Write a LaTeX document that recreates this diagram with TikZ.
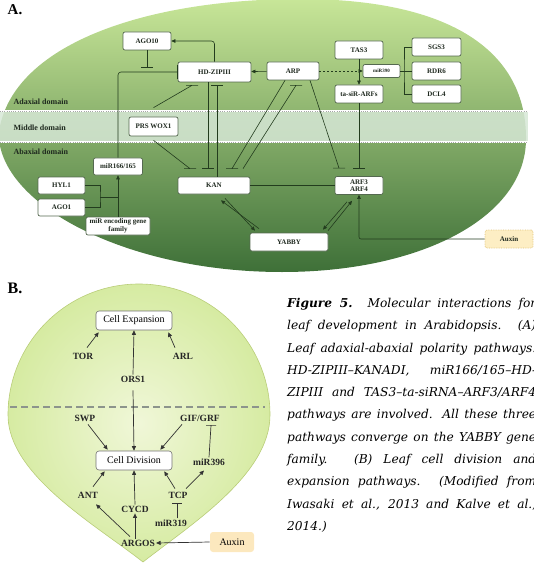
\documentclass[tikz,border=0pt]{standalone}
\usepackage{fontspec}
\setmainfont{Liberation Serif}
\newfontfamily\capfont{DejaVu Serif}
\usetikzlibrary{arrows.meta,positioning,calc}
\definecolor{leaftop}{RGB}{200,230,152}
\definecolor{leafmid}{RGB}{178,214,138}
\definecolor{leafdark}{RGB}{62,112,56}
\definecolor{bandfill}{RGB}{214,231,214}
\definecolor{boxline}{RGB}{85,105,80}
\definecolor{linkgreen}{RGB}{35,60,30}
\definecolor{labeltext}{RGB}{30,40,30}
\definecolor{leafB}{RGB}{214,235,162}
\definecolor{leafBin}{RGB}{240,247,216}
\definecolor{leafBedge}{RGB}{185,205,120}
\definecolor{auxinA}{RGB}{253,238,196}
\definecolor{auxinAedge}{RGB}{225,195,120}
\definecolor{auxinB}{RGB}{252,232,190}
\definecolor{dashgray}{RGB}{140,148,140}
\newcommand{\capline}[1]{\makebox[249pt][s]{#1}}
\tikzset{
  genebox/.style={rectangle,rounded corners=2pt,draw=boxline,fill=white,
                  line width=0.7pt,minimum width=#1,minimum height=18pt,
                  inner sep=0.5pt,align=center,text=labeltext,
                  font=\fontsize{7}{7.5}\selectfont\bfseries},
  genebox/.default=48pt,
  zonelabel/.style={anchor=west,text=labeltext,
                    font=\fontsize{8}{9}\selectfont\bfseries},
  link/.style={linkgreen,line width=0.6pt},
  act/.style={link,-{Triangle[length=4pt,width=3.6pt]}},
  blk/.style={link,-{Bar[width=14pt]}},
  tbar/.style={link,to path={-- (\tikztotarget) +(-#1,0) -- +(#1,0)}},
  tbar/.default=6,
  gene/.style={inner sep=1pt,text=black!85,
               font=\fontsize{9.5}{11}\selectfont\bfseries},
  cellbox/.style={rectangle,rounded corners=3pt,draw=black!55,fill=white,
                  line width=0.6pt,minimum width=76pt,minimum height=19pt,
                  font=\fontsize{10}{12}\selectfont},
  linkB/.style={black!80,line width=0.7pt},
  actB/.style={linkB,-{Triangle[length=4.5pt,width=4pt]}},
  tbarB/.style={linkB,to path={-- (\tikztotarget) +(-5,0) -- +(5,0)}},
}
\begin{document}
\begin{tikzpicture}[x=1pt,y=-1pt]
\useasboundingbox (0,0) rectangle (534,564);
% A: leaf polarity
\shade[top color=leaftop,middle color=leafmid,bottom color=leafdark]
  (0,126) .. controls (18,42) and (150,-1) .. (300,-1)
  .. controls (452,-1) and (527,52) .. (526,140)
  .. controls (525,218) and (420,272) .. (282,272)
  .. controls (135,272) and (14,212) .. (0,146) -- cycle;
\fill[bandfill,opacity=0.85] (0,111) rectangle (528,142);
\foreach \yy in {111,142}{
  \draw[white,line width=1.4pt] (0,\yy) -- (528,\yy);
  \draw[gray!70,line width=0.6pt,dash pattern=on 1pt off 1.2pt] (0,\yy) -- (528,\yy);
}
\node[font=\fontsize{15}{16}\selectfont\bfseries] (labA) at (15,10) {A.};
\node[zonelabel] (adax) at (10,102) {Adaxial domain};
\node[zonelabel] (midd) at (10,128) {Middle domain};
\node[zonelabel] (abax) at (10,152) {Abaxial domain};

\node[genebox] (ago10) at (147,41) {AGO10};
\node[genebox=73pt,minimum height=20pt] (hdzip) at (214.5,72) {HD-ZIPIII};
\node[genebox=52pt] (arp) at (293,71) {ARP};
\node[genebox] (tas3) at (359,50) {TAS3};
\node[genebox=37pt,minimum height=13pt,font=\fontsize{5}{6}\selectfont\bfseries]
  (mir390) at (381.5,71) {miR390};
\node[genebox] (tasir) at (359,94) {ta-siR-ARFs};
\node[genebox=49pt] (sgs3) at (436.5,47) {SGS3};
\node[genebox=49pt] (rdr6) at (436.5,71) {RDR6};
\node[genebox=49pt] (dcl4) at (436.5,94) {DCL4};
\node[genebox=49pt,minimum height=19pt] (prs) at (153.5,126.5) {PRS WOX1};
\node[genebox=49pt,minimum height=17pt] (mir166) at (118,166.5) {miR166/165};
\node[genebox=47pt,minimum height=17pt] (hyl1) at (61.5,185.5) {HYL1};
\node[genebox=47pt,minimum height=17pt] (ago1) at (61.5,207.5) {AGO1};
\node[genebox=64pt] (mirgene) at (118,226) {miR encoding gene\\family};
\node[genebox=72pt,minimum height=17pt] (kan) at (214,185.5) {KAN};
\node[genebox] (arf) at (359,185.5) {ARF3\\ARF4};
\node[genebox=78pt] (yabby) at (289,242) {YABBY};
\node[genebox,fill=auxinA,draw=auxinAedge,densely dotted] (auxinA) at (509,239) {Auxin};

\draw[act,rounded corners=3pt] (hdzip.north) |- (ago10.east);
\coordinate (ago10end) at (147,67);
\draw[tbar] (ago10.south) to (ago10end);
\draw[blk,rounded corners=3pt] (mir166.north) |- (hdzip.west);
\draw[act] (arp) -- (hdzip);
\draw[act,dash pattern=on 2pt off 2pt] (arp) -- (mir390);
\draw[act] (tas3) -- (tasir);
\coordinate (brk) at (404,71);
\draw[link] (mir390.east) -- (rdr6.west);
\draw[link] (sgs3.west) -| (brk) |- (dcl4.west);
\draw[tbar] (tasir.south) to ($(arf.north)+(0,-8)$);
\draw[tbar] ($(arp.south)+(17,0)$) to ($(arf.north)+(-20,-8)$);
\draw[tbar] ($(hdzip.south)+(-6.5,0)$) to ($(kan.north)+(-6,-8)$);
\draw[tbar] ($(kan.north)+(3,0)$) to ($(hdzip.south)+(2.5,3)$);
\draw[tbar] ($(prs.north)+(0,-9)$) to ($(hdzip.south)+(-22.5,3)$);
\draw[tbar] ($(prs.south)+(0,4)$) to ($(kan.north)+(-24,-8)$);
\draw[tbar] ($(arp.south)+(-8,0)$) to ($(kan.north)+(18,-8)$);
\draw[tbar] ($(kan.north)+(29,-8)$) to ($(arp.south)+(3,5)$);
\draw[link] (kan) -- (arf);
\draw[act] ($(kan.south)+(11,4)$) -- ($(yabby.north)+(-34,-2)$);
\draw[act] ($(yabby.north)+(-30,-4)$) -- ($(kan.south)+(7,6)$);
\draw[act] ($(arf.south)+(-12,7)$) -- ($(yabby.north)+(34,-3)$);
\draw[act] ($(yabby.north)+(39,-2)$) -- ($(arf.south)+(-7,6)$);
\draw[act,rounded corners=2pt] (auxinA.west) -| (arf.south);
\coordinate (hjoin) at (100,197.5);
\draw[link] (hyl1.east) -| (hjoin) |- (ago1.east);
\draw[link] (hjoin) -- (hjoin -| mirgene.north);
\draw[act] (mirgene.north) -- (mir166.south);

% B: cell division and expansion
\shadedraw[inner color=leafBin,outer color=leafB,draw=leafBedge,line width=0.6pt]
  (8,415) arc[start angle=180,end angle=360,radius=131]
  .. controls (270,475) and (190,525) .. (143,562)
  .. controls (96,525) and (8,475) .. cycle;
\draw[dashgray,line width=1.3pt,dash pattern=on 7pt off 4pt] (10,407) -- (265,407);
\node[font=\fontsize{16}{17}\selectfont\bfseries] (labB) at (15,288) {B.};

\node[cellbox] (cellexp) at (134,320.5) {Cell Expansion};
\node[cellbox] (celldiv) at (134,460.5) {Cell Division};
\node[gene] (tor) at (83,356) {TOR};
\node[gene] (arl) at (183,356) {ARL};
\node[gene] (ors) at (133,379) {ORS1};
\node[gene] (swp) at (85,418) {SWP};
\node[gene] (gif) at (200,418) {GIF/GRF};
\node[gene] (mir396) at (209,462) {miR396};
\node[gene] (ant) at (88,495) {ANT};
\node[gene] (cycd) at (135,509) {CYCD};
\node[gene] (tcp) at (178,495) {TCP};
\node[gene] (mir319) at (171,523) {miR319};
\node[gene] (argos) at (138,543) {ARGOS};
\node[cellbox,minimum width=44pt,minimum height=20pt,fill=auxinB,draw=none]
  (auxinB) at (232,542) {Auxin};

\draw[actB] ($(tor.north)+(4,-4)$) -- ($(cellexp.south west)+(3,2)$);
\draw[actB] ($(arl.north)+(-8,-4)$) -- ($(cellexp.south east)+(-4,2)$);
\draw[actB] (ors.north) -- (cellexp.south);
\draw[actB] ($(ors.south)+(0,7)$) -- (celldiv.north);
\draw[actB] ($(swp.south)+(3,2)$) -- ($(celldiv.north west)+(12,-1)$);
\draw[actB] ($(gif.south)+(-18,2)$) -- ($(celldiv.north east)+(-12,-1)$);
\draw[tbarB] (mir396.north) to ($(gif.south)+(11,3)$);
\draw[actB] ($(ant.north)+(5,-4)$) -- ($(celldiv.south west)+(9,1)$);
\draw[actB] (cycd.north) -- (celldiv.south);
\draw[actB] ($(tcp.north)+(-3,-2)$) -- ($(celldiv.south east)+(-8,1)$);
\draw[actB] ($(tcp.north)+(8,-2)$) -- ($(mir396.south)+(-5,4)$);
\draw[tbarB] ($(mir319.north)+(6,0)$) to ($(tcp.south)+(-1,4)$);
\draw[actB] ($(argos.north)+(-8,-2)$) -- ($(ant.south)+(8,5)$);
\draw[actB] (cycd.south |- argos.north) -- (cycd.south);
\draw[actB] (auxinB.west) -- (argos.east);

% caption
\node[anchor=north west,align=left,inner sep=0pt,
      font=\capfont\itshape\fontsize{12.2}{22.3}\selectfont] (caption) at (287,298)
  {\capline{\textbf{Figure 5.} Molecular interactions for}\\
   \capline{leaf development in Arabidopsis. (A)}\\
   \capline{Leaf adaxial-abaxial polarity pathways.}\\
   \capline{HD-ZIPIII–KANADI, miR166/165–HD-}\\
   \capline{ZIPIII and TAS3–ta-siRNA–ARF3/ARF4}\\
   \capline{pathways are involved. All these three}\\
   \capline{pathways converge on the YABBY gene}\\
   \capline{family. (B) Leaf cell division and}\\
   \capline{expansion pathways. (Modified from}\\
   \capline{Iwasaki et al., 2013 and Kalve et al.,}\\
   2014.)};
\end{tikzpicture}
\end{document}
